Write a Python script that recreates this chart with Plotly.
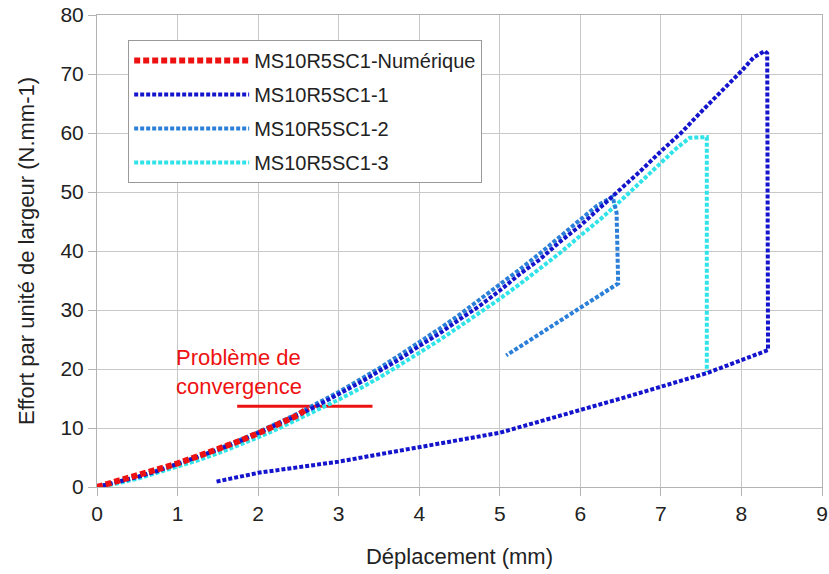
import plotly.graph_objects as go

# ---- data ----
num_x = [0, 0.25, 0.5, 0.75, 1.0, 1.25, 1.5, 1.75, 2.0, 2.25, 2.5, 2.62]
num_y = [0, 1.0, 1.9, 2.9, 4.0, 5.2, 6.4, 7.7, 9.1, 10.6, 12.2, 13.4]

s1_x = [0, 0.25, 0.5, 0.75, 1.0, 1.25, 1.5, 1.75, 2.0, 2.25, 2.5, 2.75, 3.0, 3.25, 3.5,
        3.75, 4.0, 4.25, 4.5, 4.75, 5.0, 5.25, 5.5, 5.75, 6.0, 6.25, 6.5, 6.75, 7.0,
        7.25, 7.5, 7.75, 8.0, 8.15, 8.29, 8.32, 8.33,
        7.57, 6.53, 5.0, 4.0, 3.0, 2.0, 1.48]
s1_y = [0, 0.8, 1.7, 2.7, 3.9, 5.0, 6.3, 7.6, 9.1, 10.6, 12.2, 13.9, 15.7, 17.6, 19.6,
        21.6, 23.9, 26.0, 28.4, 30.7, 33.3, 36.1, 38.6, 41.6, 44.3, 47.4, 50.3, 53.6, 56.9,
        60.0, 63.6, 67.0, 70.5, 72.8, 73.9, 73.5, 23.2,
        19.3, 15.1, 9.2, 6.7, 4.3, 2.4, 0.9]

s2_x = [0, 0.25, 0.5, 0.75, 1.0, 1.25, 1.5, 1.75, 2.0, 2.25, 2.5, 2.75, 3.0, 3.25, 3.5,
        3.75, 4.0, 4.25, 4.5, 4.75, 5.0, 5.25, 5.5, 5.75, 6.0, 6.2, 6.4, 6.45, 6.47, 5.08]
s2_y = [0, 0.8, 1.7, 2.8, 3.9, 5.1, 6.4, 7.8, 9.3, 10.9, 12.5, 14.3, 16.1, 18.1, 20.1,
        22.3, 24.5, 26.8, 29.2, 31.7, 34.2, 36.9, 39.6, 42.5, 45.3, 47.6, 49.2, 46.5, 34.5, 22.3]

s3_x = [0, 0.25, 0.5, 0.75, 1.0, 1.25, 1.5, 1.75, 2.0, 2.25, 2.5, 2.75, 3.0, 3.25, 3.5,
        3.75, 4.0, 4.25, 4.5, 4.75, 5.0, 5.25, 5.5, 5.75, 6.0, 6.25, 6.5, 6.75, 7.0,
        7.2, 7.36, 7.57, 7.57]
s3_y = [0, 0.6, 1.4, 2.4, 3.4, 4.5, 5.7, 7.0, 8.4, 9.9, 11.5, 13.1, 14.8, 16.6, 18.5,
        20.6, 22.7, 24.9, 27.2, 29.5, 31.9, 34.4, 37.0, 39.7, 42.6, 45.4, 48.5, 51.7, 55.1,
        57.5, 59.2, 59.3, 19.5]

conv_x = [1.74, 3.42]
conv_y = [13.7, 13.7]

x_ticks = [0, 1, 2, 3, 4, 5, 6, 7, 8, 9]
y_ticks = [0, 10, 20, 30, 40, 50, 60, 70, 80]

names = ["MS10R5SC1-Numérique", "MS10R5SC1-1", "MS10R5SC1-2", "MS10R5SC1-3"]

# ---- figure ----
FONT = "Liberation Sans, Arial, sans-serif"
fig = go.Figure()

fig.add_trace(go.Scatter(x=conv_x, y=conv_y, mode="lines", showlegend=False,
                         line=dict(color="#ee1111", width=3), hoverinfo="skip"))

styles = [
    (num_x, num_y, "#ee1111", 6, "6px,3px"),
    (s1_x, s1_y, "#1414cc", 4, "4px,2px"),
    (s2_x, s2_y, "#2b7fd8", 4, "4px,2px"),
    (s3_x, s3_y, "#30e3e8", 4, "4px,2px"),
]
order = [3, 2, 1, 0]
traces = []
for i, (xs, ys, col, w, dash) in enumerate(styles):
    traces.append(go.Scatter(x=xs, y=ys, mode="lines", name=names[i],
                             legendgroup=f"g{i}", legendrank=i + 1,
                             line=dict(color=col, width=w, dash=dash)))
for i in order:
    fig.add_trace(traces[i])

fig.add_annotation(x=0.95, y=19.5, xref="x", yref="y", xanchor="left", yanchor="middle",
                   text="Problème de<br>convergence", showarrow=False, align="left",
                   font=dict(family=FONT, size=22, color="#ee1111"))

axis_common = dict(showgrid=True, gridcolor="#c8c8c8", gridwidth=1,
                   showline=True, linecolor="#b3b3b3", linewidth=1, mirror=True,
                   ticks="outside", ticklen=8, tickcolor="#b3b3b3",
                   tickfont=dict(family=FONT, size=21, color="#222222"),
                   zeroline=False, automargin=False, ticklabeloverflow="allow")

fig.update_xaxes(range=[0, 9], tickvals=x_ticks,
                 title=dict(text="Déplacement (mm)", font=dict(family=FONT, size=22, color="#222222"),
                            standoff=24),
                 **axis_common)
fig.update_yaxes(range=[0, 80], tickvals=y_ticks,
                 title=dict(text="Effort par unité de largeur (N.mm-1)",
                            font=dict(family=FONT, size=22, color="#222222"), standoff=19),
                 **axis_common)

fig.update_layout(
    width=829, height=574,
    margin=dict(l=97, r=7, t=15, b=87),
    paper_bgcolor="white", plot_bgcolor="white",
    font=dict(family=FONT, color="#222222"),
    legend=dict(x=0.043, y=0.947, xanchor="left", yanchor="top",
                bgcolor="white", bordercolor="#9a9a9a", borderwidth=1,
                font=dict(family=FONT, size=20, color="#222222"),
                tracegroupgap=5, itemwidth=115),
)

fig.write_html("out.html", config={"displayModeBar": False},
               post_script="document.body.style.margin='0';")
